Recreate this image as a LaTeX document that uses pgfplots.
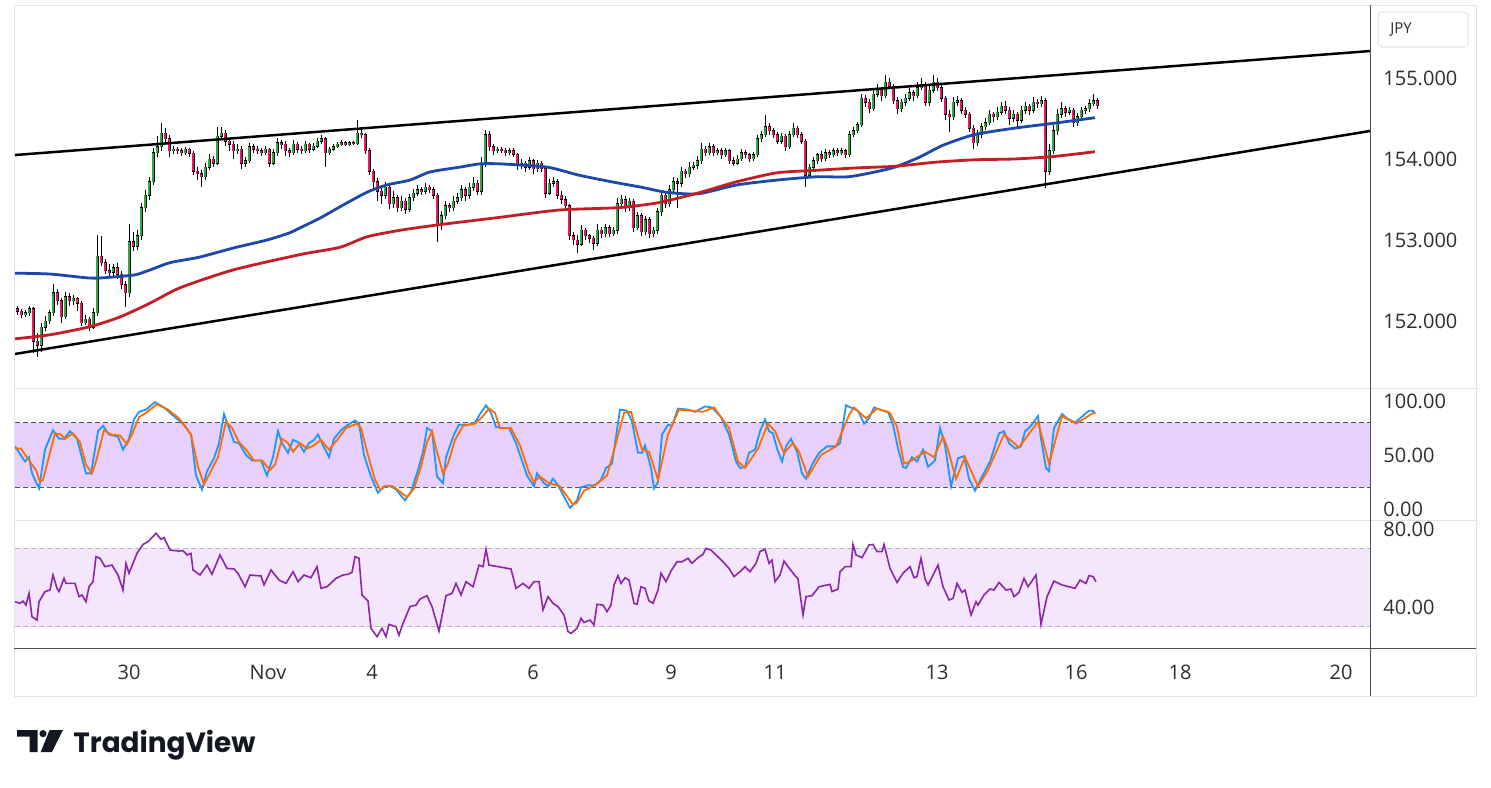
\documentclass[border=0pt]{standalone}
\usepackage{pgfplots}
\pgfplotsset{compat=1.18}
\usepackage{pgfplotstable}
\usepackage{fontspec}
\usepackage{graphicx}
\setmainfont{Open Sans}
\newfontfamily\logofont{Poppins}
\definecolor{upc}{RGB}{46,170,60}
\definecolor{dnc}{RGB}{228,24,110}
\definecolor{mablue}{RGB}{28,72,168}
\definecolor{mared}{RGB}{196,30,36}
\definecolor{kblue}{RGB}{33,150,243}
\definecolor{dorange}{RGB}{255,109,0}
\definecolor{stband}{RGB}{232,208,252}
\definecolor{rsiband}{RGB}{244,231,253}
\definecolor{rsiline}{RGB}{142,36,170}
\definecolor{framec}{RGB}{224,227,235}
\definecolor{axdark}{RGB}{80,80,88}
\definecolor{dashdark}{RGB}{85,85,95}
\definecolor{dashlight}{RGB}{185,185,192}
\definecolor{txt}{RGB}{45,45,52}
\definecolor{logoc}{RGB}{19,23,34}

\pgfplotstableread{
x o h l c
17 152.15 152.19 152.08 152.12
21 152.12 152.15 152.04 152.08
25 152.08 152.14 152.05 152.10
29 152.10 152.18 152.06 152.15
33 152.15 152.17 151.60 151.75
37 151.75 151.85 151.56 151.70
41 151.70 151.98 151.62 151.92
45 151.92 152.06 151.88 152.00
49 152.00 152.14 151.96 152.10
53 152.10 152.46 152.06 152.35
57 152.35 152.40 152.20 152.25
61 152.25 152.28 151.98 152.05
65 152.05 152.36 152.02 152.30
69 152.30 152.34 152.18 152.25
73 152.25 152.32 152.20 152.28
77 152.28 152.30 152.12 152.22
81 152.22 152.25 151.94 151.98
85 151.98 152.08 151.95 152.02
89 152.02 152.05 151.88 151.92
93 151.92 152.16 151.90 152.10
97 152.10 153.06 152.06 152.80
101 152.80 153.05 152.68 152.72
105 152.72 152.76 152.58 152.62
109 152.62 152.70 152.55 152.60
113 152.60 152.70 152.56 152.66
117 152.66 152.72 152.52 152.58
121 152.58 152.62 152.40 152.45
125 152.45 152.50 152.17 152.35
129 152.35 153.20 152.30 152.98
133 152.98 153.10 152.86 152.92
137 152.92 153.12 152.88 153.05
141 153.05 153.46 153.00 153.40
145 153.40 153.62 153.35 153.55
149 153.55 153.78 153.50 153.72
153 153.72 154.14 153.68 154.08
157 154.08 154.28 154.02 154.15
161 154.15 154.44 154.10 154.32
165 154.32 154.38 154.20 154.25
169 154.25 154.30 154.02 154.10
173 154.10 154.16 154.06 154.12
177 154.12 154.15 154.06 154.10
181 154.10 154.14 154.04 154.08
185 154.08 154.15 154.05 154.12
189 154.12 154.14 154.02 154.07
193 154.07 154.10 153.80 153.85
197 153.85 153.90 153.74 153.82
201 153.82 153.86 153.66 153.78
205 153.78 153.95 153.74 153.90
209 153.90 154.06 153.86 154.00
213 154.00 154.04 153.90 153.95
217 153.95 154.40 153.92 154.28
221 154.28 154.40 154.24 154.32
225 154.32 154.36 154.16 154.22
229 154.22 154.26 154.10 154.18
233 154.18 154.22 154.00 154.10
237 154.10 154.18 154.06 154.12
241 154.12 154.16 153.88 153.95
245 153.95 154.02 153.90 153.98
249 153.98 154.20 153.95 154.15
253 154.15 154.18 154.08 154.12
257 154.12 154.16 154.06 154.10
261 154.10 154.13 154.04 154.08
265 154.08 154.16 154.05 154.12
269 154.12 154.14 153.90 153.95
273 153.95 154.12 153.92 154.08
277 154.08 154.26 154.04 154.20
281 154.20 154.24 154.12 154.18
285 154.18 154.22 154.04 154.10
289 154.10 154.14 154.03 154.08
293 154.08 154.24 154.05 154.18
297 154.18 154.21 154.08 154.12
301 154.12 154.16 154.06 154.10
305 154.10 154.22 154.07 154.18
309 154.18 154.20 154.08 154.12
313 154.12 154.20 154.10 154.16
317 154.16 154.26 154.14 154.22
321 154.22 154.30 154.18 154.25
325 154.25 154.27 153.90 154.08
329 154.08 154.15 154.05 154.12
333 154.12 154.18 154.10 154.15
337 154.15 154.21 154.13 154.18
341 154.18 154.23 154.16 154.20
345 154.20 154.22 154.16 154.18
349 154.18 154.22 154.16 154.20
353 154.20 154.22 154.17 154.19
357 154.19 154.48 154.17 154.32
361 154.32 154.38 154.26 154.30
365 154.30 154.32 154.06 154.10
369 154.10 154.13 153.80 153.85
373 153.85 153.88 153.62 153.72
377 153.72 153.76 153.48 153.60
381 153.60 153.68 153.44 153.55
385 153.55 153.72 153.50 153.65
389 153.65 153.68 153.38 153.45
393 153.45 153.60 153.40 153.52
397 153.52 153.55 153.34 153.40
401 153.40 153.54 153.36 153.48
405 153.48 153.52 153.32 153.38
409 153.38 153.57 153.35 153.52
413 153.52 153.63 153.48 153.58
417 153.58 153.68 153.54 153.62
421 153.62 153.66 153.55 153.60
425 153.60 153.70 153.57 153.65
429 153.65 153.68 153.58 153.62
433 153.62 153.66 153.50 153.55
437 153.55 153.58 152.98 153.20
441 153.20 153.36 153.12 153.30
445 153.30 153.48 153.26 153.42
449 153.42 153.46 153.34 153.40
453 153.40 153.54 153.36 153.48
457 153.48 153.58 153.44 153.52
461 153.52 153.68 153.48 153.62
465 153.62 153.66 153.48 153.55
469 153.55 153.70 153.50 153.65
473 153.65 153.78 153.60 153.70
477 153.70 153.74 153.55 153.60
481 153.60 154.02 153.56 153.95
485 153.95 154.36 153.90 154.30
489 154.30 154.34 154.10 154.15
493 154.15 154.18 154.05 154.10
497 154.10 154.15 154.07 154.12
501 154.12 154.15 154.08 154.11
505 154.11 154.14 154.04 154.08
509 154.08 154.13 154.05 154.10
513 154.10 154.13 154.02 154.06
517 154.06 154.08 153.86 153.92
521 153.92 154.00 153.88 153.95
525 153.95 153.98 153.84 153.90
529 153.90 154.02 153.87 153.98
533 153.98 154.00 153.82 153.88
537 153.88 153.99 153.84 153.95
541 153.95 153.98 153.84 153.88
545 153.88 153.90 153.52 153.58
549 153.58 153.75 153.55 153.70
553 153.70 153.78 153.66 153.72
557 153.72 153.75 153.50 153.55
561 153.55 153.60 153.44 153.50
565 153.50 153.54 153.36 153.42
569 153.42 153.45 153.00 153.05
573 153.05 153.10 152.94 153.00
577 153.00 153.06 152.84 152.95
581 152.95 153.18 152.92 153.12
585 153.12 153.15 153.00 153.05
589 153.05 153.08 152.96 153.02
593 153.02 153.05 152.88 152.96
597 152.96 153.20 152.92 153.12
601 153.12 153.16 153.02 153.08
605 153.08 153.20 153.04 153.15
609 153.15 153.18 153.04 153.08
613 153.08 153.16 153.05 153.12
617 153.12 153.52 153.08 153.45
621 153.45 153.56 153.40 153.50
625 153.50 153.54 153.35 153.40
629 153.40 153.52 153.36 153.48
633 153.48 153.50 153.10 153.15
637 153.15 153.35 153.12 153.30
641 153.30 153.33 153.05 153.10
645 153.10 153.30 153.06 153.25
649 153.25 153.28 153.02 153.08
653 153.08 153.16 153.04 153.12
657 153.12 153.40 153.08 153.35
661 153.35 153.62 153.30 153.55
665 153.55 153.58 153.40 153.45
669 153.45 153.68 153.41 153.62
673 153.62 153.78 153.58 153.72
677 153.72 153.76 153.40 153.70
681 153.70 153.90 153.66 153.85
685 153.85 153.88 153.76 153.82
689 153.82 153.96 153.78 153.90
693 153.90 153.96 153.86 153.92
697 153.92 154.04 153.88 153.98
701 153.98 154.20 153.94 154.12
705 154.12 154.16 154.04 154.08
709 154.08 154.20 154.05 154.15
713 154.15 154.18 154.04 154.08
717 154.08 154.14 154.05 154.10
721 154.10 154.13 154.00 154.05
725 154.05 154.14 154.02 154.10
729 154.10 154.12 153.94 153.98
733 153.98 154.02 153.91 153.95
737 153.95 154.05 153.92 154.00
741 154.00 154.12 153.97 154.08
745 154.08 154.11 154.01 154.05
749 154.05 154.08 153.96 154.00
753 154.00 154.09 153.97 154.05
757 154.05 154.30 154.02 154.25
761 154.25 154.34 154.21 154.30
765 154.30 154.54 154.27 154.40
769 154.40 154.44 154.30 154.35
773 154.35 154.38 154.26 154.30
777 154.30 154.33 154.18 154.22
781 154.22 154.32 154.19 154.28
785 154.28 154.31 154.10 154.15
789 154.15 154.34 154.12 154.30
793 154.30 154.45 154.27 154.38
797 154.38 154.41 154.26 154.30
801 154.30 154.33 154.18 154.22
805 154.22 154.25 153.66 153.80
809 153.80 153.94 153.76 153.90
813 153.90 154.02 153.86 153.98
817 153.98 154.08 153.94 154.05
821 154.05 154.10 153.96 154.00
825 154.00 154.12 153.97 154.08
829 154.08 154.11 154.01 154.05
833 154.05 154.14 154.02 154.10
837 154.10 154.13 154.04 154.08
841 154.08 154.14 154.05 154.10
845 154.10 154.12 154.01 154.05
849 154.05 154.34 154.02 154.30
853 154.30 154.40 154.27 154.35
857 154.35 154.46 154.32 154.42
861 154.42 154.80 154.39 154.75
865 154.75 154.79 154.64 154.70
869 154.70 154.74 154.57 154.62
873 154.62 154.86 154.59 154.80
877 154.80 154.92 154.76 154.85
881 154.85 154.89 154.72 154.78
885 154.78 155.04 154.75 154.95
889 154.95 155.00 154.86 154.90
893 154.90 154.93 154.68 154.72
897 154.72 154.76 154.56 154.62
901 154.62 154.74 154.58 154.70
905 154.70 154.80 154.66 154.75
909 154.75 154.88 154.72 154.82
913 154.82 154.85 154.72 154.78
917 154.78 154.95 154.75 154.88
921 154.88 155.00 154.85 154.92
925 154.92 154.95 154.65 154.70
929 154.70 154.90 154.66 154.85
933 154.85 155.04 154.82 154.95
937 154.95 155.00 154.84 154.88
941 154.88 154.92 154.70 154.75
945 154.75 154.78 154.48 154.55
949 154.55 154.60 154.33 154.52
953 154.52 154.76 154.48 154.70
957 154.70 154.78 154.66 154.72
961 154.72 154.75 154.55 154.60
965 154.60 154.64 154.50 154.55
969 154.55 154.58 154.33 154.38
973 154.38 154.42 154.12 154.20
977 154.20 154.36 154.16 154.30
981 154.30 154.45 154.26 154.40
985 154.40 154.50 154.36 154.45
989 154.45 154.60 154.42 154.55
993 154.55 154.58 154.46 154.52
997 154.52 154.64 154.48 154.58
1001 154.58 154.70 154.54 154.65
1005 154.65 154.72 154.56 154.60
1009 154.60 154.64 154.42 154.50
1013 154.50 154.60 154.46 154.55
1017 154.55 154.58 154.40 154.48
1021 154.48 154.66 154.45 154.60
1025 154.60 154.70 154.56 154.65
1029 154.65 154.68 154.54 154.60
1033 154.60 154.76 154.57 154.70
1037 154.70 154.74 154.63 154.68
1041 154.68 154.78 154.64 154.72
1045 154.72 154.75 153.64 153.85
1049 153.85 154.18 153.80 154.10
1053 154.10 154.42 154.06 154.35
1057 154.35 154.62 154.30 154.55
1061 154.55 154.70 154.50 154.62
1065 154.62 154.66 154.52 154.58
1069 154.58 154.64 154.54 154.60
1073 154.60 154.63 154.40 154.45
1077 154.45 154.57 154.41 154.52
1081 154.52 154.64 154.48 154.60
1085 154.60 154.66 154.56 154.62
1089 154.62 154.74 154.58 154.68
1093 154.68 154.80 154.65 154.72
1097 154.72 154.75 154.62 154.66
}\candles

\pgfplotsset{tvpane/.style={
  scale only axis, width=677.5pt, xmin=15, xmax=1370,
  axis line style={draw=none}, major tick length=0pt, tick style={draw=none},
  xtick=\empty, yticklabel pos=right,
  yticklabel style={anchor=west, inner sep=0pt, xshift=6.5pt,
    font=\fontsize{10}{12}\selectfont, text=txt},
  clip=true,
}}
\pgfplotsset{candle/.style={forget plot, draw=none, mark=none,
  error bars/y dir=both, error bars/y explicit, error bars/error mark=none}}

\begin{document}
\begin{tikzpicture}
\fill[white] (0,0) rectangle (745.5pt,-393.5pt);
\useasboundingbox (0,0) rectangle (745.5pt,-393.5pt);

% ---------- price pane ----------
\begin{axis}[tvpane, at={(7.5pt,-194pt)}, anchor=south west, height=191.5pt,
  ymin=151.1728, ymax=155.9012, ytick={152,153,154,155},
  yticklabels={152.000,153.000,154.000,155.000}]
% wicks
\addplot[candle, error bars/error bar style={draw=black, line width=0.5pt, line cap=butt}]
  table[x=x, y expr={0.5*(\thisrow{h}+\thisrow{l})},
        y error expr={0.5*(\thisrow{h}-\thisrow{l})}]{\candles};
% body outlines
\addplot[candle, error bars/error bar style={draw=black, line width=1.5pt, line cap=butt}]
  table[x=x, y expr={0.5*(\thisrow{o}+\thisrow{c})},
        y error expr={0.5*abs(\thisrow{c}-\thisrow{o})+0.006}]{\candles};
% up bodies
\addplot[candle, restrict expr to domain={\thisrow{c}-\thisrow{o}}{0:10},
  error bars/error bar style={draw=upc, line width=0.75pt, line cap=butt}]
  table[x=x, y expr={0.5*(\thisrow{o}+\thisrow{c})},
        y error expr={0.5*abs(\thisrow{c}-\thisrow{o})}]{\candles};
% down bodies
\addplot[candle, restrict expr to domain={\thisrow{c}-\thisrow{o}}{-10:-0.00001},
  error bars/error bar style={draw=dnc, line width=0.75pt, line cap=butt}]
  table[x=x, y expr={0.5*(\thisrow{o}+\thisrow{c})},
        y error expr={0.5*abs(\thisrow{c}-\thisrow{o})}]{\candles};
% moving averages
\addplot[mablue, line width=1.4pt, smooth, tension=0.4] coordinates {
(15,152.59) (50,152.58) (90,152.53) (110,152.54) (135,152.57) (150,152.63)
(170,152.72) (200,152.79) (233,152.90) (267,153.00) (290,153.09) (300,153.15)
(320,153.27) (340,153.41) (367,153.59) (387,153.68) (410,153.74) (430,153.84)
(460,153.90) (480,153.94) (500,153.94) (547,153.90) (579,153.80) (611,153.72)
(642,153.65) (666,153.59) (698,153.57) (737,153.68) (777,153.74) (816,153.78)
(848,153.78) (875,153.84) (895,153.90) (919,154.02) (943,154.17) (974,154.30)
(1014,154.38) (1053,154.44) (1095,154.51)};
\addplot[mared, line width=1.4pt, smooth, tension=0.4] coordinates {
(15,151.78) (50,151.83) (90,151.93) (120,152.05) (150,152.22) (180,152.41)
(233,152.63) (300,152.82) (340,152.91) (367,153.04) (400,153.12) (440,153.19)
(500,153.28) (559,153.37) (619,153.40) (658,153.46) (698,153.58) (737,153.72)
(777,153.83) (816,153.86) (856,153.89) (895,153.91) (935,153.96) (974,153.99)
(1014,154.00) (1053,154.03) (1095,154.09)};
% channel
\addplot[black, line width=1.25pt] coordinates {(15,154.049) (1370,155.333)};
\addplot[black, line width=1.25pt] coordinates {(15,151.593) (1370,154.346)};
\end{axis}

% ---------- stochastic pane ----------
\begin{axis}[tvpane, at={(7.5pt,-260pt)}, anchor=south west, height=66pt,
  ymin=-10.19, ymax=112.04, ytick={0,50,100}, yticklabels={0.00,50.00,100.00}]
\fill[stband] (axis cs:15,20) rectangle (axis cs:1370,80);
\addplot[forget plot, draw=dashdark, line width=0.5pt, dash pattern=on 2.5pt off 1.5pt] coordinates {(15,80) (1370,80)};
\addplot[forget plot, draw=dashdark, line width=0.5pt, dash pattern=on 2.5pt off 1.5pt] coordinates {(15,20) (1370,20)};
\addplot[kblue, line width=0.9pt] coordinates {
(15,58) (25,44) (29,48) (32,33) (39,19) (45,55) (53,73) (59,65) (64,65) (70,72)
(77,65) (86,33) (91,33) (98,72) (103,77) (109,69) (118,67) (123,55) (129,65)
(134,83) (139,90) (146,92) (155,99) (164,94) (175,85) (184,78) (191,69) (196,31)
(202,18) (207,35) (214,47) (219,61) (224,88) (229,75) (234,62) (239,61) (246,50)
(252,45) (261,45) (267,31) (273,48) (278,72) (282,61) (288,52) (293,64) (298,62)
(304,53) (309,61) (314,64) (318,69) (323,59) (329,48) (334,65) (341,73) (348,78)
(355,82) (359,79) (364,50) (371,30) (378,15) (384,21) (391,21) (396,18) (405,8)
(411,16) (418,36) (423,53) (427,75) (432,72) (437,30) (443,24) (446,48) (454,69)
(459,78) (468,78) (475,80) (480,88) (486,96) (491,89) (496,76) (502,75) (509,75)
(516,61) (527,31) (534,21) (537,33) (543,25) (548,21) (553,28) (558,22) (570,1)
(577,8) (581,20) (588,22) (595,22) (601,27) (606,38) (612,42) (620,92) (627,91)
(632,81) (638,52) (642,52) (645,59) (651,38) (654,19) (658,25) (662,69) (668,78)
(672,77) (678,93) (688,92) (695,90) (705,95) (712,94) (721,85) (729,69) (736,44)
(740,38) (745,39) (749,52) (755,55) (760,72) (765,83) (769,72) (773,70) (777,56)
(782,44) (786,58) (791,65) (797,53) (802,33) (806,28) (812,41) (819,52) (827,58)
(836,58) (840,61) (846,96) (853,93) (858,91) (864,79) (869,84) (874,94) (880,92)
(888,90) (893,78) (898,56) (903,39) (906,38) (912,48) (917,44) (923,55) (928,39)
(935,45) (940,75) (945,59) (951,21) (958,47) (964,49) (969,28) (975,17) (982,30)
(990,44) (999,70) (1004,72) (1009,61) (1015,56) (1021,58) (1025,72) (1030,76)
(1038,86) (1041,65) (1046,38) (1049,35) (1054,75) (1062,88) (1067,84) (1075,80)
(1080,84) (1089,91) (1093,91) (1095,88)};
\addplot[dorange, line width=0.9pt] coordinates {
(15,56) (21,56) (29,45) (36,36) (40,25) (43,27) (48,45) (55,70) (61,69) (65,65)
(73,70) (80,62) (86,41) (92,33) (96,44) (104,73) (111,69) (120,68) (127,60)
(132,69) (139,85) (146,89) (157,97) (168,92) (179,84) (191,69) (198,39) (204,23)
(211,35) (218,48) (226,81) (232,75) (239,62) (246,55) (254,45) (262,45) (270,36)
(275,41) (282,65) (288,61) (293,53) (300,61) (307,56) (314,59) (321,64) (329,55)
(338,65) (346,75) (357,79) (361,75) (368,50) (375,27) (380,18) (386,21) (393,21)
(400,16) (407,11) (414,19) (421,39) (427,62) (432,72) (437,53) (443,33) (448,42)
(455,64) (463,77) (475,79) (482,85) (489,93) (495,89) (500,75) (511,75) (520,59)
(529,34) (534,25) (540,30) (549,24) (560,21) (573,4) (577,6) (584,17) (595,22)
(607,31) (616,61) (624,89) (631,90) (635,77) (642,55) (649,53) (658,27) (668,69)
(679,92) (692,91) (703,90) (714,94) (729,75) (738,44) (745,38) (758,56) (768,79)
(775,72) (784,52) (793,61) (799,53) (808,30) (821,50) (836,58) (849,87) (854,94)
(866,84) (877,93) (890,89) (897,76) (904,42) (910,44) (925,53) (934,48) (943,67)
(947,58) (956,28) (965,48) (978,21) (988,36) (1004,69) (1019,57) (1038,81)
(1049,42) (1062,86) (1076,79) (1095,90)};
\end{axis}

% ---------- RSI pane ----------
\begin{axis}[tvpane, at={(7.5pt,-324pt)}, anchor=south west, height=64pt,
  ymin=18.974, ymax=84.615, ytick={40,80}, yticklabels={40.00,80.00},
  xtick={129,268,372,533,671,775,937,1076,1180,1341},
  xticklabels={30,Nov,4,6,9,11,13,16,18,20},
  xticklabel style={anchor=base, inner sep=0pt, yshift=-15.5pt,
    font=\fontsize{10}{12}\selectfont, text=txt}]
\fill[rsiband] (axis cs:15,30) rectangle (axis cs:1370,70);
\addplot[forget plot, draw=dashlight, line width=0.5pt, dash pattern=on 2.5pt off 1.5pt] coordinates {(15,70) (1370,70)};
\addplot[forget plot, draw=dashlight, line width=0.5pt, dash pattern=on 2.5pt off 1.5pt] coordinates {(15,30) (1370,30)};
\addplot[rsiline, line width=0.8pt] coordinates {
(15,42.7) (20,41.9) (23,43) (26,41) (29,47) (32,35) (37,33.3) (39,42.7) (45,47.9)
(50,48.7) (53,56.4) (57,49.6) (59,47.9) (64,54.7) (66,52.1) (75,52.1) (79,45.3)
(82,46.2) (86,42.7) (89,50.4) (93,53) (96,65.8) (100,65) (105,60.7) (112,61.5)
(118,56.4) (123,48.7) (126,62.4) (129,57.3) (137,67.5) (143,72.1) (148,73.5)
(156,77.8) (161,74.7) (164,75.6) (170,69.2) (179,68.7) (183,68.9) (187,66.7)
(191,67.5) (193,59) (200,56.4) (207,61.5) (212,56.8) (220,66.7) (227,59.8)
(234,59.5) (238,57.3) (245,50.4) (250,56.4) (261,55.9) (264,51.3) (271,59)
(279,53.8) (286,52.1) (293,58.1) (298,53) (304,56.4) (311,55) (317,60.7)
(321,49.6) (327,50.4) (336,54.7) (343,56.4) (348,56.8) (352,57.8) (355,65.8)
(359,65) (362,46.2) (368,43.1) (371,29.1) (377,24.8) (382,29.1) (386,24.8)
(389,31.1) (396,29.9) (399,25.6) (403,31.6) (410,40.2) (416,41) (420,44.1)
(427,45.8) (432,40.2) (439,27.7) (446,45.8) (452,47) (456,52.1) (461,46.2)
(466,53) (473,50.4) (479,61.5) (483,60.7) (486,69.6) (489,61.5) (498,60.7)
(511,59.5) (516,49.6) (523,52.1) (529,49.6) (534,53) (539,53) (543,38.5)
(548,45.3) (553,41.9) (558,40.2) (564,35.9) (568,27.4) (571,26.5) (577,29.1)
(581,34.2) (584,32.1) (590,33.3) (594,30.8) (597,41.4) (603,41) (607,37.6)
(611,41) (614,51.3) (618,56.1) (621,52.1) (625,55) (629,53.8) (634,41.9)
(637,41.4) (641,50.4) (645,49.6) (649,43.1) (653,41.9) (658,48.7) (661,57.3)
(666,53) (671,58.5) (677,63.2) (682,63.2) (688,65) (692,62.4) (698,65.3) (703,67)
(706,70.1) (711,69.2) (716,66.7) (723,63.2) (729,59.8) (734,55.6) (740,58.1)
(745,60.7) (750,58.1) (756,62.4) (760,68.4) (765,69.7) (769,62.4) (772,64.1)
(775,53) (780,56.4) (784,63.6) (788,60.7) (795,56.1) (798,54.4) (803,35.9)
(806,45.3) (812,45.8) (819,50.4) (827,51.3) (830,51.6) (832,47.9) (838,49.2)
(840,58.1) (845,60.7) (851,60.7) (853,72.1) (856,66.7) (862,65.3) (869,71.8)
(873,72.1) (877,68.4) (882,68.4) (884,72.1) (890,59.8) (897,52.6) (903,57.3)
(910,60.7) (914,55) (917,55.6) (921,65) (925,54.4) (928,51.3) (938,61.5)
(943,50.4) (949,43.6) (953,44.4) (957,52.1) (962,47.5) (965,48.7) (971,35.9)
(976,42.7) (978,41) (984,46.2) (990,49.2) (994,48.7) (999,52.6) (1006,48.7)
(1011,49.2) (1014,45.3) (1019,47.5) (1024,54.7) (1028,50.4) (1036,56.4)
(1041,31.1) (1047,45.3) (1054,53.3) (1062,51.3) (1075,49.6) (1080,53.8)
(1086,52.1) (1089,56.1) (1093,55.6) (1096,53)};
\end{axis}

% ---------- frame and decorations (pixel units) ----------
\begin{scope}[x=0.5pt,y=-0.5pt]
\draw[framec, line width=0.5pt] (14,5) rectangle (1476,696);
\draw[framec, line width=0.5pt] (14,388) -- (1476,388);
\draw[framec, line width=0.5pt] (14,520) -- (1476,520);
\draw[axdark, line width=0.5pt] (14,648) -- (1476,648);
\draw[axdark, line width=0.5pt] (1370,5) -- (1370,696);
\draw[framec, line width=0.5pt, rounded corners=2pt] (1378,12) rectangle (1468,47);
\node[anchor=west, inner sep=0pt, font=\fontsize{7.5}{9}\selectfont, text=txt] at (1390,30) {JPY};
% logo
\fill[logoc] (17,730) -- (37.6,730) -- (37.6,752) -- (29.5,752) -- (29.5,736.6) -- (17,736.6) -- cycle;
\fill[logoc] (43,733.6) circle[radius=3.6];
\fill[logoc] (49.6,730) -- (63,730) -- (51.9,752) -- (40.7,752) -- cycle;
\node[anchor=base west, inner sep=0pt] at (73,752) {\resizebox{91pt}{!}{\color{logoc}\logofont\bfseries TradingView}};
\end{scope}
\end{tikzpicture}
\end{document}
